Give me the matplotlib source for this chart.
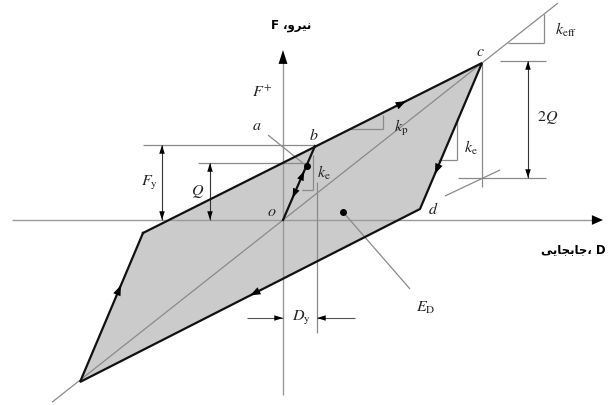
import matplotlib
matplotlib.use('Agg')
import matplotlib.pyplot as plt
import numpy as np

plt.rcParams['mathtext.fontset'] = 'stix'
plt.rcParams['font.family'] = ['DejaVu Sans']

# ---------------- data (displacement D, force F) ----------------
# hysteresis loop vertices in drawing order: e (upper-left knee), c, d, f (bottom)
loop_names = ['e', 'c', 'd', 'f']
loop_D = [-14.0, 19.9, 13.7, -20.3]
loop_F = [-1.3, 15.7, 1.1, -16.2]
# initial elastic loading o -> b
init_D = [0.0, 3.2]
init_F = [0.0, 7.4]
Fy = 7.4          # yield force
Q = 5.7           # characteristic strength
Dy = 3.4          # yield displacement marker line
a_point = [2.35, 5.4]
ED_point = [6.0, 0.8]

# Persian axis labels (shaped, visual order)
label_force = 'F \u060C\uFEED\uFEAE\uFBFF\uFEE7'              # نیرو، F
label_disp = '\uFBFD\uFBFE\uFE8E\uFEA0\uFE91\uFE8E\uFE9F\u060C D'  # جابجایی، D

# ---------------- figure ----------------
fig = plt.figure(figsize=(6.08, 4.05), dpi=100)
ax = fig.add_axes([0, 0, 1, 1])
ax.set_xlim(-28.3, 32.5)
ax.set_ylim(-18.5, 22.0)
ax.axis('off')

GRAY = '#8a8a8a'
TLW = 0.9


def thin(xs, ys, color=GRAY, lw=TLW, z=3):
    ax.plot(xs, ys, color=color, lw=lw, zorder=z, solid_capstyle='butt')


def head(p_from, p_to, ms=9, hl=0.7, hw=0.22, color='k', z=6):
    ax.annotate('', xy=p_to, xytext=p_from,
                arrowprops=dict(arrowstyle=f'-|>,head_length={hl},head_width={hw}',
                                color=color, lw=0, shrinkA=0, shrinkB=0,
                                mutation_scale=ms), zorder=z)


def path_arrow(p0, p1, t, ms=10):
    p0 = np.array(p0, float); p1 = np.array(p1, float)
    p = p0 + t * (p1 - p0)
    d = (p1 - p0) / np.hypot(*(p1 - p0))
    head(tuple(p - 0.4 * d), tuple(p), ms=ms, hl=0.75, hw=0.28)


def dim_arrow(x, y0, y1, ms=9):
    thin([x, x], [y0, y1], color='#333333', lw=0.8)
    mid = 0.5 * (y0 + y1)
    head((x, mid), (x, y0), ms=ms)
    head((x, mid), (x, y1), ms=ms)


# axes
thin([-27.1, 31.4], [0, 0], color='#9a9a9a', lw=1.0, z=2)
head((30.6, 0), (32.0, 0), ms=10, hl=0.8, hw=0.35)
thin([0, 0], [-17.5, 15.8], color='#9a9a9a', lw=1.0, z=2)
head((0, 15.0), (0, 17.0), ms=10, hl=1.0, hw=0.32)

# loop fill and outline
ax.fill(loop_D, loop_F, color='#cbcbcb', zorder=1, lw=0)
ax.plot(loop_D + [loop_D[0]], loop_F + [loop_F[0]], color='#111111', lw=1.6,
        zorder=5, solid_joinstyle='miter')
ax.plot(init_D, init_F, color='#111111', lw=1.6, zorder=5)

# secant (effective stiffness) line
keff = loop_F[1] / loop_D[1]
sx = np.array([-23.1, 27.5])
thin(sx, keff * sx)

# construction lines
thin([loop_D[0], init_D[1]], [Fy + 0.1, Fy + 0.1])
thin([-8.5, a_point[0]], [Q, Q])
thin([-1.5, a_point[0]], [8.5, a_point[1]])
ax.plot(*a_point, 'o', color='k', ms=4, zorder=7)
thin([3.0, 3.0], [6.5, 3.0]); thin([1.9, 3.0], [3.0, 3.0])
thin([Dy, Dy], [3.8, -11.3])
thin([6.7, 10.0], [9.1, 9.1]); thin([10.0, 10.0], [9.1, 10.5])
thin([22.5, 26.1], [17.7, 17.7]); thin([26.1, 26.1], [17.7, keff * 26.1])
thin([loop_D[1], loop_D[1]], [loop_F[1], 3.3])
thin([21.7, 26.3], [15.9, 15.9]); thin([17.5, 26.3], [4.2, 4.2])
thin([17.4, 17.4], [10.2, 6.0]); thin([15.5, 17.4], [6.0, 6.0])
thin([16.2, 21.7], [2.4, 5.0])
thin([ED_point[0], 12.7], [ED_point[1], -6.9])
ax.plot(*ED_point, 'o', color='k', ms=4, zorder=7)

# dimension arrows
dim_arrow(-12.1, 0.0, Fy + 0.1)
dim_arrow(-7.3, 0.0, Q)
dim_arrow(24.5, 4.2, 15.9)
thin([-3.6, 0], [-9.8, -9.8], color='#555555', lw=0.8)
head((-2.0, -9.8), (0.0, -9.8), ms=9)
thin([7.2, Dy], [-9.8, -9.8], color='#555555', lw=0.8)
head((5.4, -9.8), (Dy, -9.8), ms=9)

# direction arrows on the loop
E = (loop_D[0], loop_F[0]); C = (loop_D[1], loop_F[1])
Dp = (loop_D[2], loop_F[2]); Fp = (loop_D[3], loop_F[3])
O = (init_D[0], init_F[0]); B = (init_D[1], init_F[1])
path_arrow(E, C, 0.776)
path_arrow(C, Dp, 0.76)
path_arrow(Dp, Fp, 0.5)
path_arrow(Fp, E, 0.65)
path_arrow(O, B, 0.66, ms=9)
path_arrow(B, O, 0.70, ms=9)

# labels
fs = 11.5
def lab(x, y, s, size=fs, **kw):
    ax.text(x, y, s, fontsize=size, ha='center', va='center', color='#222222', zorder=8, **kw)

lab(-2.1, 12.8, r'$F^{+}$')
lab(-2.6, 9.5, r'$a$')
lab(3.1, 8.5, r'$b$')
lab(-1.1, 0.9, r'$o$')
lab(-13.3, 3.7, r'$F_{\rm y}$')
lab(-8.5, 2.8, r'$Q$')
lab(4.1, 4.7, r'$k_{\rm e}$')
lab(11.8, 9.2, r'$k_{\rm p}$')
lab(19.7, 16.8, r'$c$')
lab(28.3, 19.0, r'$k_{\rm eff}$')
lab(26.5, 10.3, r'$2Q$')
lab(18.8, 7.2, r'$k_{\rm e}$')
lab(15.0, 1.1, r'$d$')
lab(14.3, -8.8, r'$E_{\rm D}$')
lab(1.8, -9.8, r'$D_{\rm y}$')

ax.text(0.8, 19.4, label_force, fontsize=8.5, fontweight='bold', ha='center',
        va='center', family=['DejaVu Sans', 'Noto Sans'])
ax.text(32.3, -3.0, label_disp, fontsize=8.5, fontweight='bold', ha='right',
        va='center', family=['DejaVu Sans', 'Noto Sans'])

fig.savefig('out.png', dpi=100)
